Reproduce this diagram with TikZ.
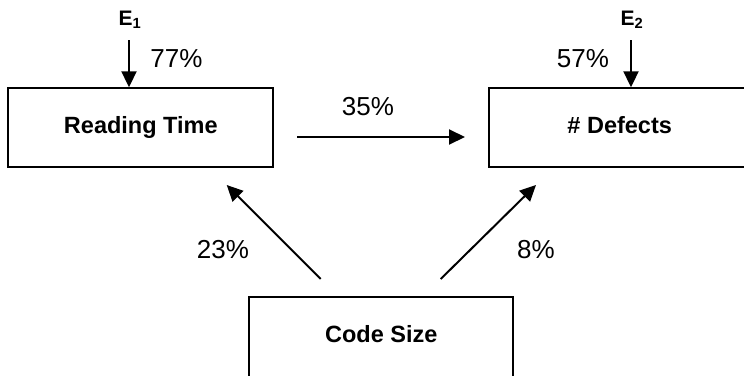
\documentclass[tikz,border=0pt]{standalone}
\usepackage{fontspec}
\setmainfont{Liberation Sans}
\usetikzlibrary{arrows.meta}

\begin{document}
\begin{tikzpicture}[x=1pt, y=-1pt,
  box/.style={draw, line width=2pt, rectangle, inner sep=0pt,
    font=\fontsize{23.5}{28}\selectfont\bfseries,
    text height=17pt, text depth=5pt},
  pct/.style={inner sep=0pt, anchor=base, font=\fontsize{26}{30}\selectfont},
  err/.style={inner sep=0pt, anchor=base west, font=\fontsize{21}{24}\selectfont\bfseries},
  arr/.style={line width=2pt, -{Triangle[length=16pt, width=15pt]}}
]
  % canvas
  \fill[white] (0,0) rectangle (744,375);
  \useasboundingbox (0,0) rectangle (744,375);
  \clip (0,0) rectangle (744,375);

  % variables
  \node[box, minimum width=265pt, minimum height=78.4pt] (rt) at (140.8,127.5) {Reading Time};
  \node[box, minimum width=260.8pt, minimum height=78.4pt] (df) at (619.7,127.5) {\# Defects};
  \node[box, minimum width=264pt, minimum height=80pt] (cs) at (381.3,336.7) {Code Size};

  % error terms
  \node[err] (e1) at (118.5,25) {E\textsubscript{1}};
  \node[err] (e2) at (620.5,25) {E\textsubscript{2}};
  \coordinate (e1s) at (129,40);
  \coordinate (e2s) at (631,40);
  \draw[arr] (e1s) -- (e1s |- rt.north);
  \draw[arr] (e2s) -- (e2s |- df.north);
  \node[pct] (p77) at (176.5,67) {77\%};
  \node[pct] (p57) at (583,67) {57\%};

  % path coefficients
  \coordinate (h1) at (297,137);
  \coordinate (h2) at (465,137);
  \draw[arr] (h1) -- (h2);
  \node[pct] (p35) at (368,115) {35\%};

  \coordinate (l1) at (320.7,279);
  \coordinate (l2) at (226.7,185);
  \draw[arr] (l1) -- (l2);
  \node[pct] (p23) at (223,258) {23\%};

  \coordinate (r1) at (440.7,279);
  \coordinate (r2) at (536,185);
  \draw[arr] (r1) -- (r2);
  \node[pct] (p8) at (536,258) {8\%};
\end{tikzpicture}
\end{document}
